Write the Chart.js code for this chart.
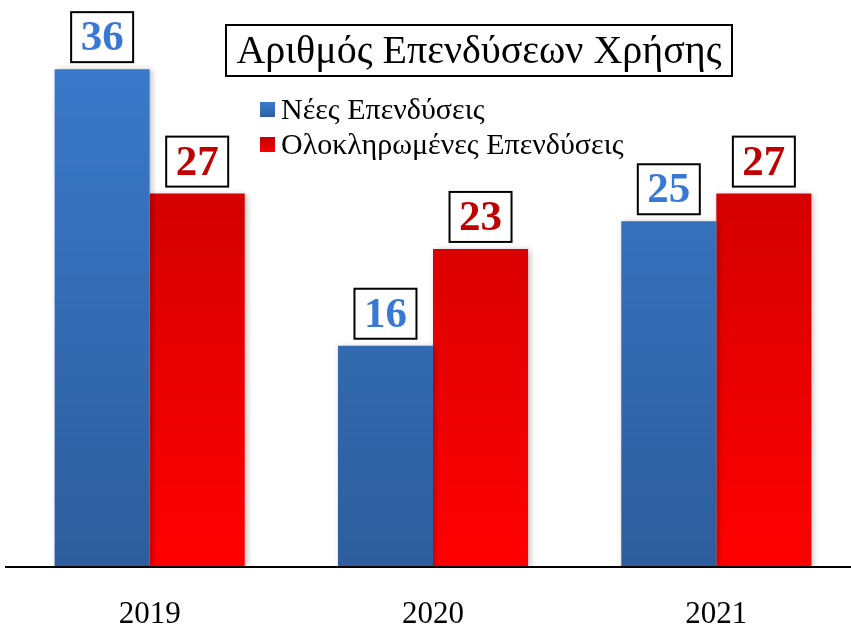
<!DOCTYPE html>
<html>
<head>
<meta charset="utf-8">
<script src="https://cdn.jsdelivr.net/npm/chart.js"></script>
<style>
  html, body { margin: 0; padding: 0; background: #fff; overflow: hidden; }
  #wrap { width: 860px; height: 628px; }
</style>
</head>
<body>
<div id="wrap"><canvas id="c" width="860" height="628"></canvas></div>
<script>
  "use strict";

  const years = ["2019", "2020", "2021"];
  const newInvest = [36, 16, 25];
  const doneInvest = [27, 23, 27];
  const seriesNames = ["Νέες Επενδύσεις", "Ολοκληρωμένες Επενδύσεις"];
  const chartTitle = "Αριθμός Επενδύσεων Χρήσης";

  const SERIF = "'Liberation Serif', 'DejaVu Serif', serif";

  function blueGrad(ctx, area) {
    const g = ctx.createLinearGradient(0, area.top, 0, area.bottom);
    g.addColorStop(0, "#3b7dd0");
    g.addColorStop(1, "#2d5d9c");
    return g;
  }
  function redGrad(ctx, area) {
    const g = ctx.createLinearGradient(0, area.top, 0, area.bottom);
    g.addColorStop(0, "#bf0000");
    g.addColorStop(1, "#ff0000");
    return g;
  }

  // shadow behind bars
  const barShadow = {
    id: "barShadow",
    beforeDatasetsDraw(chart) {
      const ctx = chart.ctx;
      ctx.save();
      ctx.shadowColor = "rgba(0,0,0,0.25)";
      ctx.shadowBlur = 6;
      ctx.shadowOffsetX = 2;
      ctx.shadowOffsetY = 1;
    },
    afterDatasetsDraw(chart) {
      chart.ctx.restore();
    },
  };

  // value boxes, axis line, title box and legend
  const decorations = {
    id: "decorations",
    afterDraw(chart) {
      const ctx = chart.ctx;
      const area = chart.chartArea;

      // axis line
      ctx.save();
      ctx.strokeStyle = "#000";
      ctx.lineWidth = 2;
      ctx.beginPath();
      ctx.moveTo(5, area.bottom);
      ctx.lineTo(chart.width, area.bottom);
      ctx.stroke();
      ctx.restore();

      // value labels in boxes
      const colors = ["#3a78d6", "#c00000"];
      chart.data.datasets.forEach((ds, di) => {
        const meta = chart.getDatasetMeta(di);
        meta.data.forEach((bar, i) => {
          const txt = String(ds.data[i]);
          ctx.save();
          ctx.font = "bold 43px " + SERIF;
          const w = 62, h = 50;
          const x = bar.x - w / 2;
          const y = bar.y - 7 - h;
          ctx.fillStyle = "#fff";
          ctx.fillRect(x, y, w, h);
          ctx.strokeStyle = "#000";
          ctx.lineWidth = 2;
          ctx.strokeRect(x, y, w, h);
          ctx.fillStyle = colors[di];
          ctx.textAlign = "center";
          ctx.textBaseline = "middle";
          ctx.fillText(txt, bar.x, y + h / 2 + 2);
          ctx.restore();
        });
      });

      // title box
      ctx.save();
      ctx.fillStyle = "#fff";
      ctx.fillRect(226, 25, 506, 51);
      ctx.strokeStyle = "#000";
      ctx.lineWidth = 2;
      ctx.strokeRect(226, 25, 506, 51);
      ctx.font = "40px " + SERIF;
      ctx.fillStyle = "#000";
      ctx.textAlign = "center";
      ctx.textBaseline = "middle";
      ctx.fillText(chartTitle, 479, 52);
      ctx.restore();

      // legend
      const sw = [blueGrad, redGrad];
      seriesNames.forEach((name, i) => {
        const ly = 110 + i * 35;
        ctx.save();
        ctx.fillStyle = sw[i](ctx, { top: ly - 8, bottom: ly + 8 });
        ctx.fillRect(260, ly - 8, 15, 15);
        ctx.font = "30px " + SERIF;
        ctx.fillStyle = "#000";
        ctx.textAlign = "left";
        ctx.textBaseline = "middle";
        ctx.fillText(name, 281, ly + 1);
        ctx.restore();
      });
    },
  };

  new Chart(document.getElementById("c").getContext("2d"), {
    type: "bar",
    data: {
      labels: years,
      datasets: [
        {
          label: seriesNames[0],
          data: newInvest,
          backgroundColor: (c) => (c.chart.chartArea ? blueGrad(c.chart.ctx, c.chart.chartArea) : "#3b7dd0"),
        },
        {
          label: seriesNames[1],
          data: doneInvest,
          backgroundColor: (c) => (c.chart.chartArea ? redGrad(c.chart.ctx, c.chart.chartArea) : "#d00000"),
        },
      ],
    },
    options: {
      responsive: false,
      animation: false,
      layout: { padding: { left: 8, right: 2, top: 0, bottom: 0 } },
      datasets: { bar: { categoryPercentage: 0.671, barPercentage: 1 } },
      plugins: { legend: { display: false }, title: { display: false }, tooltip: { enabled: false } },
      scales: {
        x: {
          grid: { display: false, drawTicks: false },
          border: { display: false },
          ticks: { color: "#000", padding: 29, font: { family: SERIF, size: 31 } },
          afterFit(scale) { scale.height = 61; },
        },
        y: { display: false, min: 0, max: 41 },
      },
    },
    plugins: [barShadow, decorations],
  });
</script>
</body>
</html>
